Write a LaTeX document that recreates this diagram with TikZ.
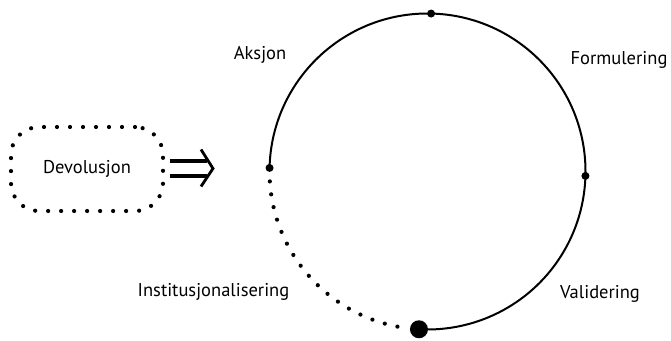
\documentclass[tikz,border=0pt]{standalone}
\usepackage{fontspec}
\setmainfont{PT Sans}
\usetikzlibrary{calc}
\begin{document}
\begin{tikzpicture}[x=1pt,y=1pt,
  lbl/.style={font=\fontsize{18.5}{20}\selectfont, inner sep=0pt},
  dotnode/.style={circle, fill=black, inner sep=0pt, minimum size=8pt},
  bigdot/.style={circle, fill=black, inner sep=0pt, minimum size=18pt},
  dotline/.style={line width=4.2pt, line cap=round, dash pattern=on 0pt off 13pt},
  implbar/.style={line width=3.6pt},
  implhead/.style={line width=2.8pt, line join=miter}]
\useasboundingbox (0,0) rectangle (671,340);
\coordinate (c) at (427.5,168.5);
\def\R{158}
\node[dotnode] (top) at ($(c)+(88.7:\R)$) {};
\node[dotnode] (right) at ($(c)+(-1.6:\R)$) {};
\node[dotnode] (left) at ($(c)+(178.7:\R)$) {};
\node[bigdot] (bottom) at ($(c)+(266.9:\R)$) {};
\draw[line width=2pt] ($(c)+(178.7:\R)$) arc[start angle=178.7, end angle=-93.1, radius=\R];
\draw[dotline] ($(c)+(183.6:\R)$) arc[start angle=183.6, end angle=262, radius=\R];
\node[draw, dotline, rounded corners=28pt, minimum width=152pt, minimum height=84pt, lbl] (dev) at (87,171) {Devolusjon};
% implication arrow
\coordinate (tip) at (213,171.5);
\draw[implbar] ($(tip)+(-43,7.5)$) -- ($(tip)+(-6,7.5)$);
\draw[implbar] ($(tip)+(-43,-7.5)$) -- ($(tip)+(-6,-7.5)$);
\draw[implhead] ($(tip)+(-12,19)$) -- (tip) -- ($(tip)+(-12,-18)$);
\node[lbl, anchor=base] (aks) at (260,280) {Aksjon};
\node[lbl, anchor=base] (form) at (619,275) {Formulering};
\node[lbl, anchor=base] (val) at (600,42) {Validering};
\node[lbl, anchor=base] (inst) at (213.5,44) {Institusjonalisering};
\end{tikzpicture}
\end{document}
